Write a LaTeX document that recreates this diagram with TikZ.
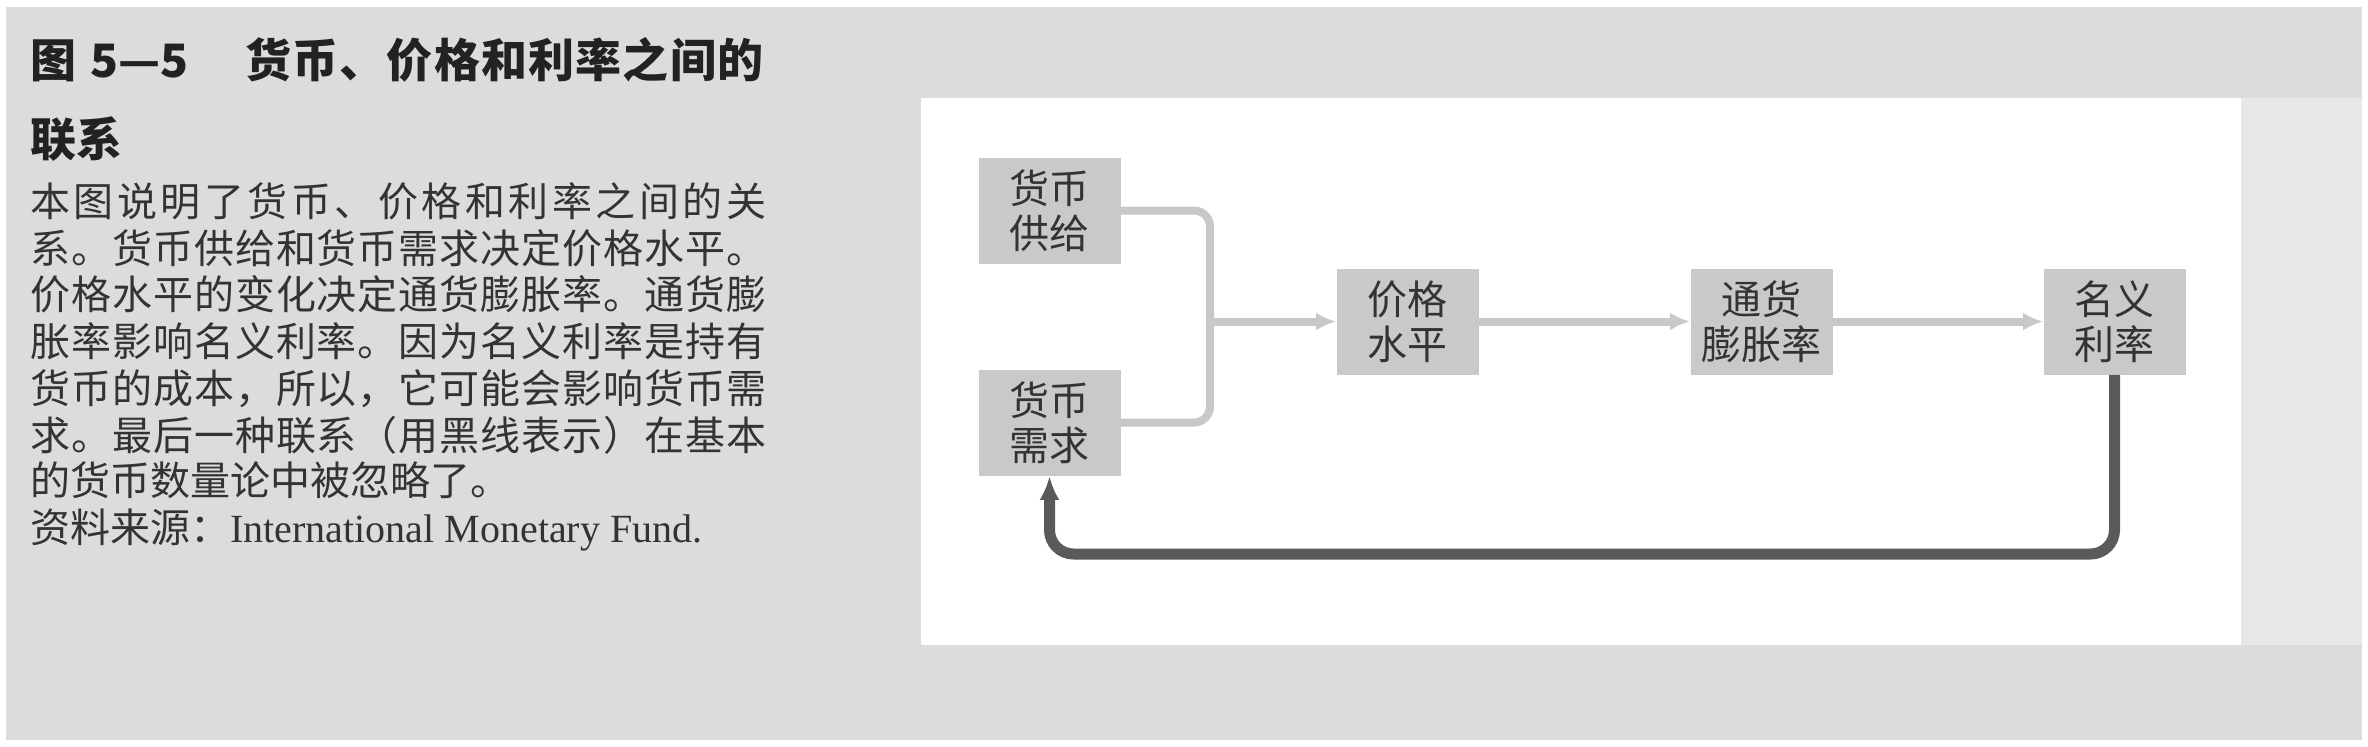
\documentclass[tikz,border=0pt]{standalone}
\usepackage{fontspec}
\newfontfamily\cjk{Noto Sans CJK SC}
\newfontfamily\lserif{Liberation Serif}
\usetikzlibrary{arrows.meta}
\definecolor{bggray}{HTML}{DCDCDC}
\definecolor{bglight}{HTML}{E7E7E7}
\definecolor{boxgray}{HTML}{C9C9C9}
\definecolor{linegray}{HTML}{C8C8C8}
\definecolor{darkline}{HTML}{5A5A5A}
\definecolor{txt}{HTML}{333333}
\definecolor{titletxt}{HTML}{222222}
\makeatletter
\newcommand\jl[2]{\hbox to #1{\@tfor\jc:=#2\do{\jc\hfil}\unskip}}
\makeatother
\begin{document}
\begin{tikzpicture}[x=0.5pt,y=-0.5pt,
  flowbox/.style={fill=boxgray, minimum width=71pt, minimum height=53pt, inner sep=0pt,
    align=center, font=\cjk\fontsize{20}{22.5}\selectfont, text=txt},
  captext/.style={anchor=west, inner sep=0pt, text=txt,
    font=\cjk\fontsize{20}{24}\selectfont, text height=17.6pt, text depth=2.4pt},
  titletext/.style={anchor=west, inner sep=0pt, text=titletxt,
    font=\cjk\bfseries\fontsize{23}{27}\selectfont, text height=20.2pt, text depth=2.8pt},
  grayconn/.style={draw=linegray, line width=4pt, rounded corners=8pt},
  grayarrow/.style={draw=linegray, line width=4pt, -{Latex[length=10pt,width=9pt]}},
  darkarrow/.style={draw=darkline, line width=5.5pt, rounded corners=12pt,
    -{Latex[length=12pt,width=10pt]}}
]
\useasboundingbox (0,0) rectangle (2368,746);
% background
\fill[white] (0,0) rectangle (2368,746);
\fill[bggray] (6,7) rectangle (2362,740);
\fill[bglight] (2241,98) rectangle (2362,645);
\fill[white] (921,98) rectangle (2241,645);

% caption
\node[titletext] (t1) at (30,60) {图};
\node[titletext] (t2) at (90,60) {5—5};
\node[titletext] (t3) at (245,60) {\jl{259pt}{货币、价格和利率之间的}};
\node[titletext] (t4) at (30,139) {联系};

\node[captext] (l1) at (30,201) {\jl{368pt}{本图说明了货币、价格和利率之间的关}};
\node[captext] (l2) at (30,248) {\jl{368pt}{系。货币供给和货币需求决定价格水平。}};
\node[captext] (l3) at (30,294) {\jl{368pt}{价格水平的变化决定通货膨胀率。通货膨}};
\node[captext] (l4) at (30,341) {\jl{368pt}{胀率影响名义利率。因为名义利率是持有}};
\node[captext] (l5) at (30,388) {\jl{368pt}{货币的成本，所以，它可能会影响货币需}};
\node[captext] (l6) at (30,435) {\jl{368pt}{求。最后一种联系（用黑线表示）在基本}};
\node[captext] (l7) at (30,480) {的货币数量论中被忽略了。};
\node[captext] (l8) at (30,527) {资料来源：{\lserif International Monetary Fund.}};

% flow boxes
\node[flowbox] (supply) at (1049.5,210.5) {货币\\供给};
\node[flowbox] (demand) at (1049.5,422.5) {货币\\需求};
\node[flowbox] (price) at (1407.5,321.5) {价格\\水平};
\node[flowbox] (infl) at (1761.5,321.5) {通货\\膨胀率};
\node[flowbox] (nominal) at (2114.5,321.5) {名义\\利率};

% gray connectors
\coordinate (jt) at (1210,210.5);
\coordinate (jb) at (1210,422.5);
\coordinate (jm) at (1210,321.5);
\draw[grayconn] (supply.east) -- (jt) -- (jb) -- (demand.east);
\draw[grayarrow] (jm) -- (price.west);
\draw[grayarrow] (price.east) -- (infl.west);
\draw[grayarrow] (infl.east) -- (nominal.west);

% dark feedback
\coordinate (bot) at (1500,554);
\draw[darkarrow] (nominal.south) -- (nominal.south |- bot) -- (demand.south |- bot) -- (demand.south);
\end{tikzpicture}
\end{document}
